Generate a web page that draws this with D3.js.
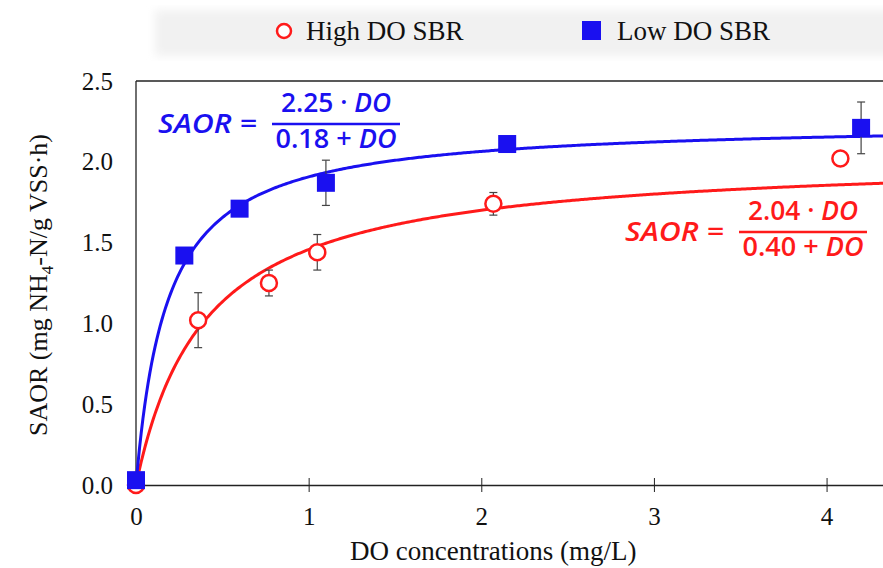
<!DOCTYPE html>
<html>
<head>
<meta charset="utf-8">
<script src="https://cdn.jsdelivr.net/npm/d3@7"></script>
<style>
  body { margin: 0; background: #fff; }
  svg { display: block; }
</style>
</head>
<body>
<svg id="chart" width="883" height="568"></svg>
<script>
// Données
const seriesNames = ["High DO SBR", "Low DO SBR"];
const highX = [0, 0.36, 0.77, 1.05, 2.07, 4.08];
const highY = [0.0, 1.02, 1.25, 1.44, 1.74, 2.02];
const highErr = [0, 0.17, 0.08, 0.11, 0.07, 0];
const lowX = [0, 0.28, 0.6, 1.1, 2.15, 4.2];
const lowY = [0.03, 1.42, 1.71, 1.87, 2.11, 2.21];
const lowErr = [0, 0, 0, 0.14, 0, 0.16];
// Paramètres de Monod affichés sur le graphique (Vmax, K)
const fitVmax = [2.04, 2.25];
const fitK = [0.40, 0.18];
const xTicks = [0, 1, 2, 3, 4];
const yTicks = [0, 0.5, 1.0, 1.5, 2.0, 2.5];

const svg = d3.select("#chart");
const RED = "#ff1a1a", BLUE = "#1a10f0";
const serif = "'Liberation Serif', 'Times New Roman', serif";
const eqFont = "'Open Sans', 'Noto Sans', sans-serif";

const x = d3.scaleLinear().domain([0, 4.35]).range([136, 887]);
const y = d3.scaleLinear().domain([0, 2.5]).range([485, 81]);

// Bandeau gris clair derrière la légende
const defs = svg.append("defs");
defs.append("filter").attr("id", "blur")
  .append("feGaussianBlur").attr("stdDeviation", 5);
svg.append("rect")
  .attr("x", 155).attr("y", 10).attr("width", 740).attr("height", 46)
  .attr("fill", "#f1f1f1").attr("filter", "url(#blur)");

// Cadre : haut et gauche
svg.append("line").attr("x1", x(0)).attr("x2", 883)
  .attr("y1", y(2.5)).attr("y2", y(2.5)).attr("stroke", "#222").attr("stroke-width", 1.3);
svg.append("line").attr("x1", x(0)).attr("x2", x(0))
  .attr("y1", y(2.5)).attr("y2", y(0)).attr("stroke", "#222").attr("stroke-width", 1.3);

// Axe des x
const xAxis = svg.append("g")
  .attr("transform", `translate(0,${y(0)})`)
  .call(d3.axisBottom(x).tickValues(xTicks).tickSize(0).tickPadding(22).tickFormat(d3.format("d")));
xAxis.select(".domain").attr("stroke", "#222").attr("stroke-width", 1.3);
xAxis.selectAll(".tick line").attr("y1", -7).attr("y2", 7).attr("stroke", "#222");
xAxis.selectAll(".tick text").attr("font-family", serif).attr("font-size", 25).attr("fill", "#111");
xAxis.select(".tick").select("line").remove();

// Axe des y (étiquettes seulement)
const yAxis = svg.append("g")
  .attr("transform", `translate(${x(0)},0)`)
  .call(d3.axisLeft(y).tickValues(yTicks).tickSize(0).tickPadding(23).tickFormat(d3.format(".1f")));
yAxis.select(".domain").remove();
yAxis.selectAll(".tick text").attr("font-family", serif).attr("font-size", 25).attr("fill", "#111");

// Titres des axes
svg.append("text")
  .attr("x", 350).attr("y", 560)
  .attr("font-family", serif).attr("font-size", 27).attr("fill", "#111")
  .text("DO concentrations (mg/L)");
const yt = svg.append("text")
  .attr("transform", "translate(47,285) rotate(-90)")
  .attr("text-anchor", "middle")
  .attr("font-family", serif).attr("font-size", 26).attr("fill", "#111");
yt.append("tspan").text("SAOR (mg NH");
yt.append("tspan").attr("font-size", 17).attr("dy", 6).text("4");
yt.append("tspan").attr("dy", -6).text("-N/g VSS·h)");

// Courbes d'ajustement
const grid = d3.range(0, 4.3501, 0.01);
const line = d3.line().x(d => x(d[0])).y(d => y(d[1]));
[RED, BLUE].forEach((c, i) => {
  svg.append("path")
    .datum(grid.map(v => [v, fitVmax[i] * v / (fitK[i] + v)]))
    .attr("fill", "none").attr("stroke", c).attr("stroke-width", 3)
    .attr("d", line);
});

// Barres d'erreur
function errorBars(xs, ys, es) {
  xs.forEach((xv, i) => {
    if (!es[i]) return;
    const g = svg.append("g").attr("stroke", "#444").attr("stroke-width", 1.2);
    g.append("line").attr("x1", x(xv)).attr("x2", x(xv))
      .attr("y1", y(ys[i] + es[i])).attr("y2", y(ys[i] - es[i]));
    [ys[i] + es[i], ys[i] - es[i]].forEach(v => {
      g.append("line").attr("x1", x(xv) - 4).attr("x2", x(xv) + 4)
        .attr("y1", y(v)).attr("y2", y(v));
    });
  });
}
errorBars(highX, highY, highErr);
errorBars(lowX, lowY, lowErr);

// Points : cercles rouges et carrés bleus
svg.selectAll(".high").data(highX).join("circle")
  .attr("cx", d => x(d)).attr("cy", (d, i) => y(highY[i])).attr("r", 8)
  .attr("fill", "#fff").attr("stroke", RED).attr("stroke-width", 2.5);
svg.selectAll(".low").data(lowX).join("rect")
  .attr("x", d => x(d) - 9).attr("y", (d, i) => y(lowY[i]) - 9)
  .attr("width", 18).attr("height", 18).attr("fill", BLUE);

// Légende
svg.append("circle").attr("cx", 284).attr("cy", 31).attr("r", 7)
  .attr("fill", "#fff").attr("stroke", RED).attr("stroke-width", 2.5);
svg.append("text").attr("x", 306).attr("y", 40)
  .attr("font-family", serif).attr("font-size", 27).attr("fill", "#111").text(seriesNames[0]);
svg.append("rect").attr("x", 582).attr("y", 21).attr("width", 19).attr("height", 19).attr("fill", BLUE);
svg.append("text").attr("x", 617).attr("y", 40)
  .attr("font-family", serif).attr("font-size", 27).attr("fill", "#111").text(seriesNames[1]);

// Équations (fraction de Monod)
function equation(xl, xf, yc, c, num, den) {
  const g = svg.append("g").attr("fill", c).attr("font-family", eqFont)
    .attr("font-weight", 600).attr("font-size", 27);
  g.append("text").attr("x", xl).attr("y", yc + 9)
    .attr("textLength", 99).attr("lengthAdjust", "spacingAndGlyphs")
    .attr("font-style", "italic").text("SAOR =");
  const w = 128;
  g.append("line").attr("x1", xf).attr("x2", xf + w).attr("y1", yc).attr("y2", yc)
    .attr("stroke", c).attr("stroke-width", 2.4);
  [[num, yc - 12, 110], [den, yc + 24, 121]].forEach(([parts, yy, len]) => {
    const t = g.append("text").attr("x", xf + w / 2).attr("y", yy)
      .attr("text-anchor", "middle")
      .attr("textLength", len).attr("lengthAdjust", "spacingAndGlyphs");
    t.append("tspan").text(parts[0]);
    t.append("tspan").attr("font-style", "italic").text(parts[1]);
  });
}
equation(158, 272, 124, BLUE, ["2.25 · ", "DO"], ["0.18 + ", "DO"]);
equation(625, 739, 232, RED, ["2.04 · ", "DO"], ["0.40 + ", "DO"]);
</script>
</body>
</html>
